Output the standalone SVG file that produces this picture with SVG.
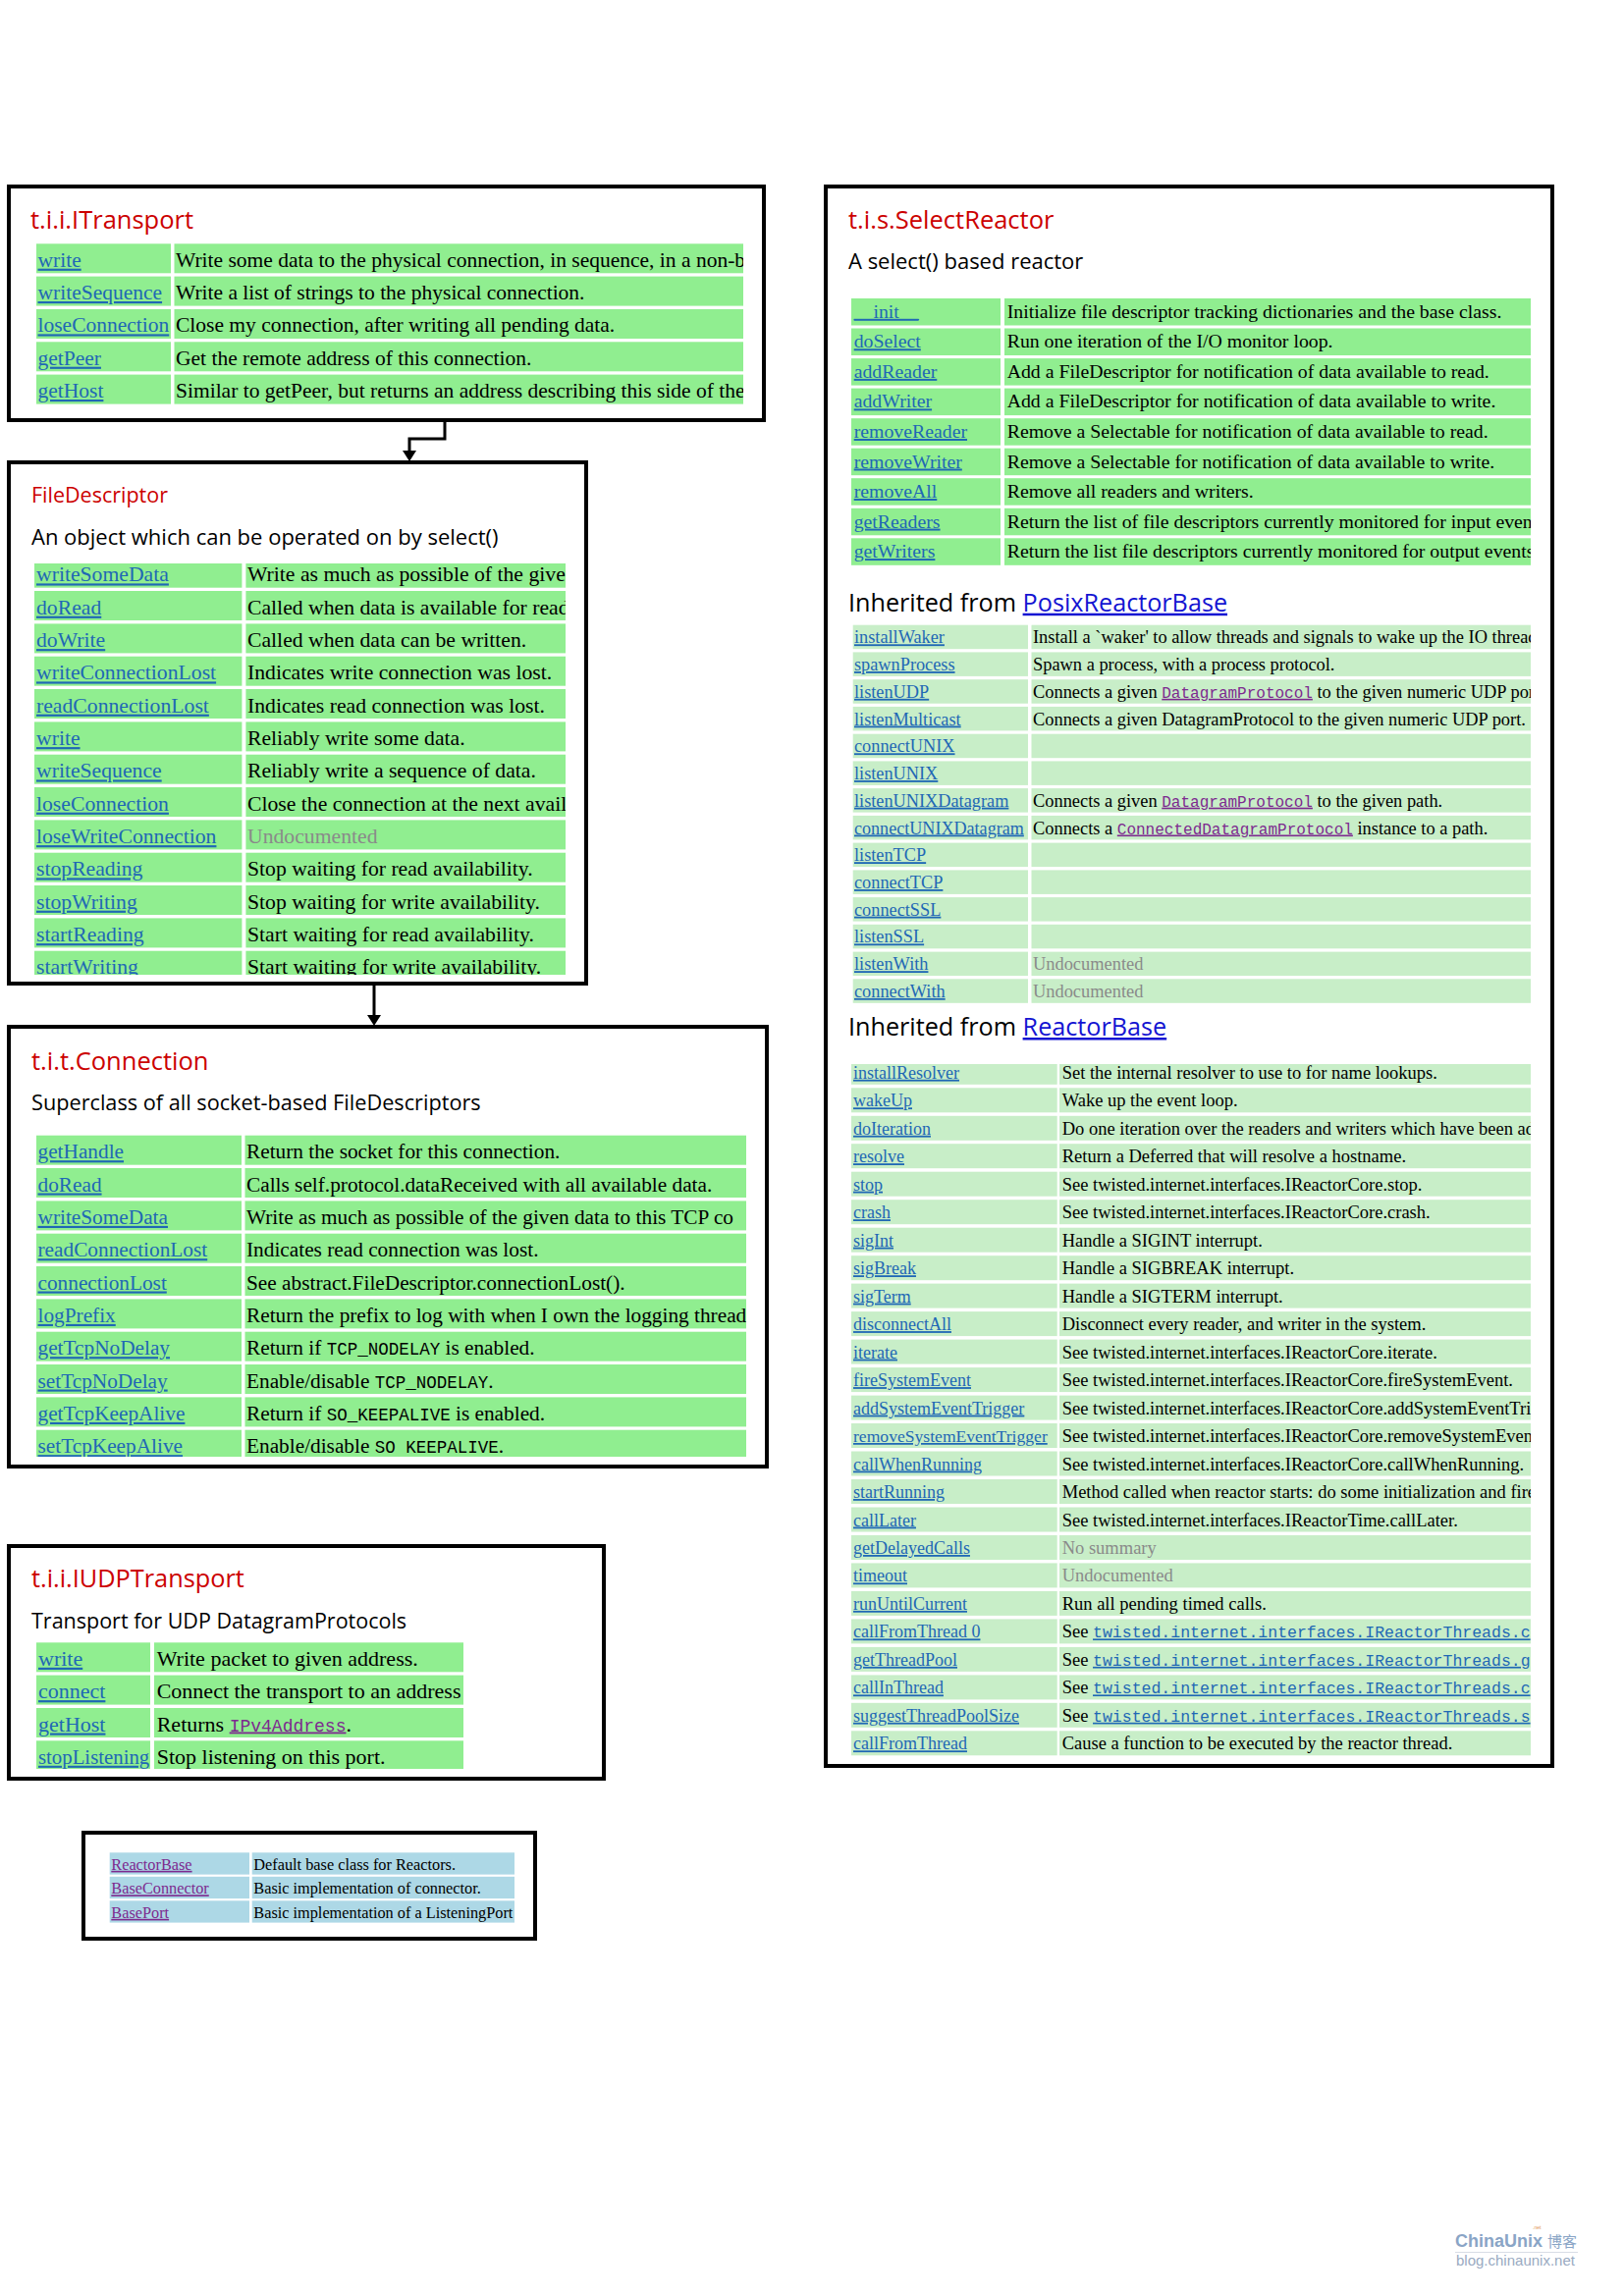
<svg xmlns="http://www.w3.org/2000/svg" width="1654" height="2339" viewBox="0 0 1654 2339">
<style>
.box{fill:#fff;stroke:#000;stroke-width:4}
.ttl{font-family:"Open Sans","Noto Sans",sans-serif;fill:#cc0000}
.sub{font-family:"Open Sans","Noto Sans",sans-serif;fill:#000}
.hl{fill:#1414d2;text-decoration:underline}
.g{fill:#90ee90}
.pg{fill:#c8eec8}
.lb{fill:#add8e6}
.t{font-family:"Liberation Serif","Times New Roman",serif;fill:#000}
.lk{fill:#1f68b5;text-decoration:underline}
.pl{fill:#7d2a8f;text-decoration:underline}
.und{fill:#8a8a8a}
.m{font-family:"Liberation Mono","Courier New",monospace}
.conn{fill:none;stroke:#000;stroke-width:3}
.wm{font-family:"Liberation Sans",Arial,sans-serif}
</style>
<defs>
<marker id="ah" markerWidth="11" markerHeight="14" refX="0" refY="7" orient="auto" markerUnits="userSpaceOnUse"><path d="M0,0 L11,7 L0,14 z" fill="#000"/></marker>
<clipPath id="c1"><rect x="37" y="248" width="720" height="165"/></clipPath>
<clipPath id="c2"><rect x="35" y="574" width="541" height="419"/></clipPath>
<clipPath id="c3"><rect x="37" y="1156" width="723" height="328"/></clipPath>
<clipPath id="c4"><rect x="37" y="1673" width="435" height="129"/></clipPath>
<clipPath id="c5"><rect x="111" y="1887" width="413" height="73"/></clipPath>
<clipPath id="c6"><rect x="867" y="303" width="692" height="273"/></clipPath>
<clipPath id="c7"><rect x="868" y="636" width="691" height="386"/></clipPath>
<clipPath id="c8"><rect x="867" y="1084" width="692" height="705"/></clipPath>
<clipPath id="c8a"><rect x="867" y="1084" width="210" height="705"/></clipPath>
</defs>

<g id="connectors">
<path class="conn" d="M453,430 V447 H417 V459" marker-end="url(#ah)"/>
<path class="conn" d="M381,1004 V1034" marker-end="url(#ah)"/>
</g>

<g id="ITransport">
<rect class="box" x="9" y="190" width="769" height="238"/>
<text class="ttl" x="31" y="233" font-size="25.5">t.i.i.ITransport</text>
<g clip-path="url(#c1)" class="t" font-size="21.5">
<rect class="g" x="37" y="248.3" width="137" height="30"/><rect class="g" x="177.5" y="248.3" width="579.5" height="30"/>
<rect class="g" x="37" y="281.6" width="137" height="30"/><rect class="g" x="177.5" y="281.6" width="579.5" height="30"/>
<rect class="g" x="37" y="315" width="137" height="30"/><rect class="g" x="177.5" y="315" width="579.5" height="30"/>
<rect class="g" x="37" y="348.3" width="137" height="30"/><rect class="g" x="177.5" y="348.3" width="579.5" height="30"/>
<rect class="g" x="37" y="381.6" width="137" height="30"/><rect class="g" x="177.5" y="381.6" width="579.5" height="30"/>
<text class="lk" x="38.5" y="271.7">write</text><text x="179" y="271.7">Write some data to the physical connection, in sequence, in a non-b</text>
<text class="lk" x="38.5" y="305">writeSequence</text><text x="179" y="305">Write a list of strings to the physical connection.</text>
<text class="lk" x="38.5" y="338.4">loseConnection</text><text x="179" y="338.4">Close my connection, after writing all pending data.</text>
<text class="lk" x="38.5" y="371.7">getPeer</text><text x="179" y="371.7">Get the remote address of this connection.</text>
<text class="lk" x="38.5" y="405">getHost</text><text x="179" y="405">Similar to getPeer, but returns an address describing this side of the</text>
</g>
</g>

<g id="FileDescriptor">
<rect class="box" x="9" y="471" width="588" height="531"/>
<text class="ttl" x="32" y="511.7" font-size="21.5">FileDescriptor</text>
<text class="sub" x="32" y="555" font-size="22">An object which can be operated on by select()</text>
<g clip-path="url(#c2)" class="t" font-size="21.7">
<rect class="g" x="35" y="568.7" width="211.4" height="30"/><rect class="g" x="250.4" y="568.7" width="325.6" height="30"/>
<rect class="g" x="35" y="602" width="211.4" height="30"/><rect class="g" x="250.4" y="602" width="325.6" height="30"/>
<rect class="g" x="35" y="635.4" width="211.4" height="30"/><rect class="g" x="250.4" y="635.4" width="325.6" height="30"/>
<rect class="g" x="35" y="668.7" width="211.4" height="30"/><rect class="g" x="250.4" y="668.7" width="325.6" height="30"/>
<rect class="g" x="35" y="702" width="211.4" height="30"/><rect class="g" x="250.4" y="702" width="325.6" height="30"/>
<rect class="g" x="35" y="735.4" width="211.4" height="30"/><rect class="g" x="250.4" y="735.4" width="325.6" height="30"/>
<rect class="g" x="35" y="768.7" width="211.4" height="30"/><rect class="g" x="250.4" y="768.7" width="325.6" height="30"/>
<rect class="g" x="35" y="802" width="211.4" height="30"/><rect class="g" x="250.4" y="802" width="325.6" height="30"/>
<rect class="g" x="35" y="835.4" width="211.4" height="30"/><rect class="g" x="250.4" y="835.4" width="325.6" height="30"/>
<rect class="g" x="35" y="868.7" width="211.4" height="30"/><rect class="g" x="250.4" y="868.7" width="325.6" height="30"/>
<rect class="g" x="35" y="902" width="211.4" height="30"/><rect class="g" x="250.4" y="902" width="325.6" height="30"/>
<rect class="g" x="35" y="935.4" width="211.4" height="30"/><rect class="g" x="250.4" y="935.4" width="325.6" height="30"/>
<rect class="g" x="35" y="968.7" width="211.4" height="30"/><rect class="g" x="250.4" y="968.7" width="325.6" height="30"/>
<text class="lk" x="37" y="592.4">writeSomeData</text><text x="252" y="592.4">Write as much as possible of the given</text>
<text class="lk" x="37" y="625.7">doRead</text><text x="252" y="625.7">Called when data is available for read</text>
<text class="lk" x="37" y="659.1">doWrite</text><text x="252" y="659.1">Called when data can be written.</text>
<text class="lk" x="37" y="692.4">writeConnectionLost</text><text x="252" y="692.4">Indicates write connection was lost.</text>
<text class="lk" x="37" y="725.7">readConnectionLost</text><text x="252" y="725.7">Indicates read connection was lost.</text>
<text class="lk" x="37" y="759.1">write</text><text x="252" y="759.1">Reliably write some data.</text>
<text class="lk" x="37" y="792.4">writeSequence</text><text x="252" y="792.4">Reliably write a sequence of data.</text>
<text class="lk" x="37" y="825.7">loseConnection</text><text x="252" y="825.7">Close the connection at the next avail</text>
<text class="lk" x="37" y="859.1">loseWriteConnection</text><text class="und" x="252" y="859.1">Undocumented</text>
<text class="lk" x="37" y="892.4">stopReading</text><text x="252" y="892.4">Stop waiting for read availability.</text>
<text class="lk" x="37" y="925.7">stopWriting</text><text x="252" y="925.7">Stop waiting for write availability.</text>
<text class="lk" x="37" y="959.1">startReading</text><text x="252" y="959.1">Start waiting for read availability.</text>
<text class="lk" x="37" y="992.4">startWriting</text><text x="252" y="992.4">Start waiting for write availability.</text>
</g>
</g>

<g id="Connection">
<rect class="box" x="9" y="1046" width="772" height="448"/>
<text class="ttl" x="32" y="1090" font-size="25.5">t.i.t.Connection</text>
<text class="sub" x="32" y="1130.7" font-size="21.7">Superclass of all socket-based FileDescriptors</text>
<g clip-path="url(#c3)" class="t" font-size="21.3">
<rect class="g" x="37" y="1156.7" width="209" height="30"/><rect class="g" x="249.5" y="1156.7" width="510.5" height="30"/>
<rect class="g" x="37" y="1190" width="209" height="30"/><rect class="g" x="249.5" y="1190" width="510.5" height="30"/>
<rect class="g" x="37" y="1223.4" width="209" height="30"/><rect class="g" x="249.5" y="1223.4" width="510.5" height="30"/>
<rect class="g" x="37" y="1256.7" width="209" height="30"/><rect class="g" x="249.5" y="1256.7" width="510.5" height="30"/>
<rect class="g" x="37" y="1290" width="209" height="30"/><rect class="g" x="249.5" y="1290" width="510.5" height="30"/>
<rect class="g" x="37" y="1323.4" width="209" height="30"/><rect class="g" x="249.5" y="1323.4" width="510.5" height="30"/>
<rect class="g" x="37" y="1356.7" width="209" height="30"/><rect class="g" x="249.5" y="1356.7" width="510.5" height="30"/>
<rect class="g" x="37" y="1390" width="209" height="30"/><rect class="g" x="249.5" y="1390" width="510.5" height="30"/>
<rect class="g" x="37" y="1423.4" width="209" height="30"/><rect class="g" x="249.5" y="1423.4" width="510.5" height="30"/>
<rect class="g" x="37" y="1456.7" width="209" height="30"/><rect class="g" x="249.5" y="1456.7" width="510.5" height="30"/>
<text class="lk" x="38.5" y="1180.2">getHandle</text><text x="251" y="1180.2">Return the socket for this connection.</text>
<text class="lk" x="38.5" y="1213.5">doRead</text><text x="251" y="1213.5">Calls self.protocol.dataReceived with all available data.</text>
<text class="lk" x="38.5" y="1246.9">writeSomeData</text><text x="251" y="1246.9">Write as much as possible of the given data to this TCP co</text>
<text class="lk" x="38.5" y="1280.2">readConnectionLost</text><text x="251" y="1280.2">Indicates read connection was lost.</text>
<text class="lk" x="38.5" y="1313.5">connectionLost</text><text x="251" y="1313.5">See abstract.FileDescriptor.connectionLost().</text>
<text class="lk" x="38.5" y="1346.9">logPrefix</text><text x="251" y="1346.9">Return the prefix to log with when I own the logging thread</text>
<text class="lk" x="38.5" y="1380.2">getTcpNoDelay</text><text x="251" y="1380.2">Return if <tspan class="m" font-size="17.5">TCP_NODELAY</tspan> is enabled.</text>
<text class="lk" x="38.5" y="1413.5">setTcpNoDelay</text><text x="251" y="1413.5">Enable/disable <tspan class="m" font-size="17.5">TCP_NODELAY</tspan>.</text>
<text class="lk" x="38.5" y="1446.9">getTcpKeepAlive</text><text x="251" y="1446.9">Return if <tspan class="m" font-size="17.5">SO_KEEPALIVE</tspan> is enabled.</text>
<text class="lk" x="38.5" y="1480.2">setTcpKeepAlive</text><text x="251" y="1480.2">Enable/disable <tspan class="m" font-size="17.5">SO KEEPALIVE</tspan>.</text>
</g>
</g>

<g id="IUDPTransport">
<rect class="box" x="9" y="1575" width="606" height="237"/>
<text class="ttl" x="32" y="1616.7" font-size="25.3">t.i.i.IUDPTransport</text>
<text class="sub" x="32" y="1659.3" font-size="21.5">Transport for UDP DatagramProtocols</text>
<g clip-path="url(#c4)" class="t" font-size="22">
<rect class="g" x="37" y="1673.3" width="116" height="30"/><rect class="g" x="157" y="1673.3" width="315" height="30"/>
<rect class="g" x="37" y="1706.6" width="116" height="30"/><rect class="g" x="157" y="1706.6" width="315" height="30"/>
<rect class="g" x="37" y="1740" width="116" height="30"/><rect class="g" x="157" y="1740" width="315" height="30"/>
<rect class="g" x="37" y="1773.3" width="116" height="30"/><rect class="g" x="157" y="1773.3" width="315" height="30"/>
<text class="lk" x="39" y="1696.8">write</text><text x="159.7" y="1696.8">Write packet to given address.</text>
<text class="lk" x="39" y="1730.1">connect</text><text x="159.7" y="1730.1">Connect the transport to an address</text>
<text class="lk" x="39" y="1763.5">getHost</text><text x="159.7" y="1763.5">Returns <tspan class="m pl" font-size="18">IPv4Address</tspan>.</text>
<text class="lk" x="39" y="1796.8" font-size="20.8">stopListening</text><text x="159.7" y="1796.8">Stop listening on this port.</text>
</g>
</g>

<g id="Legend">
<rect class="box" x="85" y="1867" width="460" height="108" stroke-width="3.5"/>
<g clip-path="url(#c5)" class="t" font-size="16.3">
<rect class="lb" x="111.7" y="1887.3" width="142.3" height="22.3"/><rect class="lb" x="256.7" y="1887.3" width="267.3" height="22.3"/>
<rect class="lb" x="111.7" y="1911.8" width="142.3" height="22.3"/><rect class="lb" x="256.7" y="1911.8" width="267.3" height="22.3"/>
<rect class="lb" x="111.7" y="1936.3" width="142.3" height="22.3"/><rect class="lb" x="256.7" y="1936.3" width="267.3" height="22.3"/>
<text class="pl" x="113.3" y="1904.8">ReactorBase</text><text x="258.3" y="1904.8">Default base class for Reactors.</text>
<text class="pl" x="113.3" y="1929.3">BaseConnector</text><text x="258.3" y="1929.3">Basic implementation of connector.</text>
<text class="pl" x="113.3" y="1953.8">BasePort</text><text x="258.3" y="1953.8">Basic implementation of a ListeningPort</text>
</g>
</g>

<g id="SelectReactor">
<rect class="box" x="841" y="190" width="740" height="1609"/>
<text class="ttl" x="864" y="232.7" font-size="25.5">t.i.s.SelectReactor</text>
<text class="sub" x="864" y="274" font-size="22">A select() based reactor</text>
<g clip-path="url(#c6)" class="t" font-size="19.8">
<rect class="g" x="867" y="304" width="152" height="27.5"/><rect class="g" x="1023" y="304" width="536" height="27.5"/>
<rect class="g" x="867" y="334.5" width="152" height="27.5"/><rect class="g" x="1023" y="334.5" width="536" height="27.5"/>
<rect class="g" x="867" y="365.1" width="152" height="27.5"/><rect class="g" x="1023" y="365.1" width="536" height="27.5"/>
<rect class="g" x="867" y="395.6" width="152" height="27.5"/><rect class="g" x="1023" y="395.6" width="536" height="27.5"/>
<rect class="g" x="867" y="426.2" width="152" height="27.5"/><rect class="g" x="1023" y="426.2" width="536" height="27.5"/>
<rect class="g" x="867" y="456.7" width="152" height="27.5"/><rect class="g" x="1023" y="456.7" width="536" height="27.5"/>
<rect class="g" x="867" y="487.2" width="152" height="27.5"/><rect class="g" x="1023" y="487.2" width="536" height="27.5"/>
<rect class="g" x="867" y="517.8" width="152" height="27.5"/><rect class="g" x="1023" y="517.8" width="536" height="27.5"/>
<rect class="g" x="867" y="548.3" width="152" height="27.5"/><rect class="g" x="1023" y="548.3" width="536" height="27.5"/>
<text class="lk" x="869.7" y="323.8">__init__</text><text x="1025.7" y="323.8">Initialize file descriptor tracking dictionaries and the base class.</text>
<text class="lk" x="869.7" y="354.3">doSelect</text><text x="1025.7" y="354.3">Run one iteration of the I/O monitor loop.</text>
<text class="lk" x="869.7" y="384.9">addReader</text><text x="1025.7" y="384.9">Add a FileDescriptor for notification of data available to read.</text>
<text class="lk" x="869.7" y="415.4">addWriter</text><text x="1025.7" y="415.4">Add a FileDescriptor for notification of data available to write.</text>
<text class="lk" x="869.7" y="446">removeReader</text><text x="1025.7" y="446">Remove a Selectable for notification of data available to read.</text>
<text class="lk" x="869.7" y="476.5">removeWriter</text><text x="1025.7" y="476.5">Remove a Selectable for notification of data available to write.</text>
<text class="lk" x="869.7" y="507">removeAll</text><text x="1025.7" y="507">Remove all readers and writers.</text>
<text class="lk" x="869.7" y="537.6">getReaders</text><text x="1025.7" y="537.6">Return the list of file descriptors currently monitored for input event</text>
<text class="lk" x="869.7" y="568.1">getWriters</text><text x="1025.7" y="568.1">Return the list file descriptors currently monitored for output events</text>
</g>
<text class="sub" x="864" y="622.7" font-size="25.2">Inherited from <tspan class="hl">PosixReactorBase</tspan></text>
<g clip-path="url(#c7)" class="t" font-size="18.4">
<rect class="pg" x="868.7" y="636.7" width="178.3" height="24.5"/><rect class="pg" x="1050.5" y="636.7" width="508.5" height="24.5"/>
<rect class="pg" x="868.7" y="664.4" width="178.3" height="24.5"/><rect class="pg" x="1050.5" y="664.4" width="508.5" height="24.5"/>
<rect class="pg" x="868.7" y="692.2" width="178.3" height="24.5"/><rect class="pg" x="1050.5" y="692.2" width="508.5" height="24.5"/>
<rect class="pg" x="868.7" y="719.9" width="178.3" height="24.5"/><rect class="pg" x="1050.5" y="719.9" width="508.5" height="24.5"/>
<rect class="pg" x="868.7" y="747.7" width="178.3" height="24.5"/><rect class="pg" x="1050.5" y="747.7" width="508.5" height="24.5"/>
<rect class="pg" x="868.7" y="775.4" width="178.3" height="24.5"/><rect class="pg" x="1050.5" y="775.4" width="508.5" height="24.5"/>
<rect class="pg" x="868.7" y="803.1" width="178.3" height="24.5"/><rect class="pg" x="1050.5" y="803.1" width="508.5" height="24.5"/>
<rect class="pg" x="868.7" y="830.9" width="178.3" height="24.5"/><rect class="pg" x="1050.5" y="830.9" width="508.5" height="24.5"/>
<rect class="pg" x="868.7" y="858.6" width="178.3" height="24.5"/><rect class="pg" x="1050.5" y="858.6" width="508.5" height="24.5"/>
<rect class="pg" x="868.7" y="886.4" width="178.3" height="24.5"/><rect class="pg" x="1050.5" y="886.4" width="508.5" height="24.5"/>
<rect class="pg" x="868.7" y="914.1" width="178.3" height="24.5"/><rect class="pg" x="1050.5" y="914.1" width="508.5" height="24.5"/>
<rect class="pg" x="868.7" y="941.8" width="178.3" height="24.5"/><rect class="pg" x="1050.5" y="941.8" width="508.5" height="24.5"/>
<rect class="pg" x="868.7" y="969.6" width="178.3" height="24.5"/><rect class="pg" x="1050.5" y="969.6" width="508.5" height="24.5"/>
<rect class="pg" x="868.7" y="997.3" width="178.3" height="24.5"/><rect class="pg" x="1050.5" y="997.3" width="508.5" height="24.5"/>
<text class="lk" x="870" y="655.3" font-size="18.3">installWaker</text><text x="1052" y="655.3">Install a `waker' to allow threads and signals to wake up the IO thread</text>
<text class="lk" x="870" y="683" font-size="18.3">spawnProcess</text><text x="1052" y="683">Spawn a process, with a process protocol.</text>
<text class="lk" x="870" y="710.8" font-size="18.3">listenUDP</text><text x="1052" y="710.8">Connects a given <tspan class="m pl" font-size="16">DatagramProtocol</tspan> to the given numeric UDP port</text>
<text class="lk" x="870" y="738.5" font-size="18.3">listenMulticast</text><text x="1052" y="738.5">Connects a given DatagramProtocol to the given numeric UDP port.</text>
<text class="lk" x="870" y="766.3" font-size="18.3">connectUNIX</text>
<text class="lk" x="870" y="794" font-size="18.3">listenUNIX</text>
<text class="lk" x="870" y="821.7" font-size="18.3">listenUNIXDatagram</text><text x="1052" y="821.7">Connects a given <tspan class="m pl" font-size="16">DatagramProtocol</tspan> to the given path.</text>
<text class="lk" x="870" y="849.5" font-size="18.1">connectUNIXDatagram</text><text x="1052" y="849.5">Connects a <tspan class="m pl" font-size="16">ConnectedDatagramProtocol</tspan> instance to a path.</text>
<text class="lk" x="870" y="877.2" font-size="18.3">listenTCP</text>
<text class="lk" x="870" y="905" font-size="18.3">connectTCP</text>
<text class="lk" x="870" y="932.7" font-size="18.3">connectSSL</text>
<text class="lk" x="870" y="960.4" font-size="18.3">listenSSL</text>
<text class="lk" x="870" y="988.2" font-size="18.3">listenWith</text><text class="und" x="1052" y="988.2">Undocumented</text>
<text class="lk" x="870" y="1015.9" font-size="18.3">connectWith</text><text class="und" x="1052" y="1015.9">Undocumented</text>
</g>
<text class="sub" x="864" y="1055" font-size="25.2">Inherited from <tspan class="hl">ReactorBase</tspan></text>
<g class="t" font-size="18.5">
<g clip-path="url(#c8)">
<rect class="pg" x="867" y="1079.8" width="209.7" height="25"/><rect class="pg" x="1079" y="1079.8" width="480" height="25"/>
<rect class="pg" x="867" y="1108.3" width="209.7" height="25"/><rect class="pg" x="1079" y="1108.3" width="480" height="25"/>
<rect class="pg" x="867" y="1136.8" width="209.7" height="25"/><rect class="pg" x="1079" y="1136.8" width="480" height="25"/>
<rect class="pg" x="867" y="1165.2" width="209.7" height="25"/><rect class="pg" x="1079" y="1165.2" width="480" height="25"/>
<rect class="pg" x="867" y="1193.7" width="209.7" height="25"/><rect class="pg" x="1079" y="1193.7" width="480" height="25"/>
<rect class="pg" x="867" y="1222.2" width="209.7" height="25"/><rect class="pg" x="1079" y="1222.2" width="480" height="25"/>
<rect class="pg" x="867" y="1250.7" width="209.7" height="25"/><rect class="pg" x="1079" y="1250.7" width="480" height="25"/>
<rect class="pg" x="867" y="1279.2" width="209.7" height="25"/><rect class="pg" x="1079" y="1279.2" width="480" height="25"/>
<rect class="pg" x="867" y="1307.6" width="209.7" height="25"/><rect class="pg" x="1079" y="1307.6" width="480" height="25"/>
<rect class="pg" x="867" y="1336.1" width="209.7" height="25"/><rect class="pg" x="1079" y="1336.1" width="480" height="25"/>
<rect class="pg" x="867" y="1364.6" width="209.7" height="25"/><rect class="pg" x="1079" y="1364.6" width="480" height="25"/>
<rect class="pg" x="867" y="1393.1" width="209.7" height="25"/><rect class="pg" x="1079" y="1393.1" width="480" height="25"/>
<rect class="pg" x="867" y="1421.6" width="209.7" height="25"/><rect class="pg" x="1079" y="1421.6" width="480" height="25"/>
<rect class="pg" x="867" y="1450" width="209.7" height="25"/><rect class="pg" x="1079" y="1450" width="480" height="25"/>
<rect class="pg" x="867" y="1478.5" width="209.7" height="25"/><rect class="pg" x="1079" y="1478.5" width="480" height="25"/>
<rect class="pg" x="867" y="1507" width="209.7" height="25"/><rect class="pg" x="1079" y="1507" width="480" height="25"/>
<rect class="pg" x="867" y="1535.5" width="209.7" height="25"/><rect class="pg" x="1079" y="1535.5" width="480" height="25"/>
<rect class="pg" x="867" y="1564" width="209.7" height="25"/><rect class="pg" x="1079" y="1564" width="480" height="25"/>
<rect class="pg" x="867" y="1592.4" width="209.7" height="25"/><rect class="pg" x="1079" y="1592.4" width="480" height="25"/>
<rect class="pg" x="867" y="1620.9" width="209.7" height="25"/><rect class="pg" x="1079" y="1620.9" width="480" height="25"/>
<rect class="pg" x="867" y="1649.4" width="209.7" height="25"/><rect class="pg" x="1079" y="1649.4" width="480" height="25"/>
<rect class="pg" x="867" y="1677.9" width="209.7" height="25"/><rect class="pg" x="1079" y="1677.9" width="480" height="25"/>
<rect class="pg" x="867" y="1706.4" width="209.7" height="25"/><rect class="pg" x="1079" y="1706.4" width="480" height="25"/>
<rect class="pg" x="867" y="1734.8" width="209.7" height="25"/><rect class="pg" x="1079" y="1734.8" width="480" height="25"/>
<rect class="pg" x="867" y="1763.3" width="209.7" height="25"/><rect class="pg" x="1079" y="1763.3" width="480" height="25"/>
<text x="1081.7" y="1098.8">Set the internal resolver to use to for name lookups.</text>
<text x="1081.7" y="1127.3">Wake up the event loop.</text>
<text x="1081.7" y="1155.8">Do one iteration over the readers and writers which have been ad</text>
<text x="1081.7" y="1184.2">Return a Deferred that will resolve a hostname.</text>
<text x="1081.7" y="1212.7">See twisted.internet.interfaces.IReactorCore.stop.</text>
<text x="1081.7" y="1241.2">See twisted.internet.interfaces.IReactorCore.crash.</text>
<text x="1081.7" y="1269.7">Handle a SIGINT interrupt.</text>
<text x="1081.7" y="1298.2">Handle a SIGBREAK interrupt.</text>
<text x="1081.7" y="1326.6">Handle a SIGTERM interrupt.</text>
<text x="1081.7" y="1355.1">Disconnect every reader, and writer in the system.</text>
<text x="1081.7" y="1383.6">See twisted.internet.interfaces.IReactorCore.iterate.</text>
<text x="1081.7" y="1412.1">See twisted.internet.interfaces.IReactorCore.fireSystemEvent.</text>
<text x="1081.7" y="1440.6">See twisted.internet.interfaces.IReactorCore.addSystemEventTri</text>
<text x="1081.7" y="1469">See twisted.internet.interfaces.IReactorCore.removeSystemEvent</text>
<text x="1081.7" y="1497.5">See twisted.internet.interfaces.IReactorCore.callWhenRunning.</text>
<text x="1081.7" y="1526">Method called when reactor starts: do some initialization and fire</text>
<text x="1081.7" y="1554.5">See twisted.internet.interfaces.IReactorTime.callLater.</text>
<text class="und" x="1081.7" y="1583">No summary</text>
<text class="und" x="1081.7" y="1611.4">Undocumented</text>
<text x="1081.7" y="1639.9">Run all pending timed calls.</text>
<text x="1081.7" y="1668.4">See <tspan class="m lk" font-size="16.5">twisted.internet.interfaces.IReactorThreads.c</tspan></text>
<text x="1081.7" y="1696.9">See <tspan class="m lk" font-size="16.5">twisted.internet.interfaces.IReactorThreads.g</tspan></text>
<text x="1081.7" y="1725.4">See <tspan class="m lk" font-size="16.5">twisted.internet.interfaces.IReactorThreads.c</tspan></text>
<text x="1081.7" y="1753.8">See <tspan class="m lk" font-size="16.5">twisted.internet.interfaces.IReactorThreads.s</tspan></text>
<text x="1081.7" y="1782.3">Cause a function to be executed by the reactor thread.</text>
</g>
<g clip-path="url(#c8a)" font-size="18">
<text class="lk" x="869" y="1098.8">installResolver</text>
<text class="lk" x="869" y="1127.3">wakeUp</text>
<text class="lk" x="869" y="1155.8">doIteration</text>
<text class="lk" x="869" y="1184.2">resolve</text>
<text class="lk" x="869" y="1212.7">stop</text>
<text class="lk" x="869" y="1241.2">crash</text>
<text class="lk" x="869" y="1269.7">sigInt</text>
<text class="lk" x="869" y="1298.2">sigBreak</text>
<text class="lk" x="869" y="1326.6">sigTerm</text>
<text class="lk" x="869" y="1355.1">disconnectAll</text>
<text class="lk" x="869" y="1383.6">iterate</text>
<text class="lk" x="869" y="1412.1">fireSystemEvent</text>
<text class="lk" x="869" y="1440.6">addSystemEventTrigger</text>
<text class="lk" x="869" y="1469" font-size="17.6">removeSystemEventTrigger</text>
<text class="lk" x="869" y="1497.5">callWhenRunning</text>
<text class="lk" x="869" y="1526">startRunning</text>
<text class="lk" x="869" y="1554.5">callLater</text>
<text class="lk" x="869" y="1583">getDelayedCalls</text>
<text class="lk" x="869" y="1611.4">timeout</text>
<text class="lk" x="869" y="1639.9">runUntilCurrent</text>
<text class="lk" x="869" y="1668.4">callFromThread 0</text>
<text class="lk" x="869" y="1696.9">getThreadPool</text>
<text class="lk" x="869" y="1725.4">callInThread</text>
<text class="lk" x="869" y="1753.8">suggestThreadPoolSize</text>
<text class="lk" x="869" y="1782.3">callFromThread</text>
</g>
</g>
</g>

<g id="watermark">
<text class="wm" x="1482" y="2289.3" font-size="18" font-weight="bold" fill="#8aa5c6">ChinaUnix</text>
<text class="wm" x="1561" y="2271" font-size="5" fill="#e09050">.net</text>
<text x="1576" y="2289" font-size="15" fill="#8aa5c6" font-family="'Noto Sans CJK SC',sans-serif">博客</text>
<line x1="1482" y1="2294.5" x2="1607" y2="2294.5" stroke="#d8dde6" stroke-width="1"/>
<text class="wm" x="1483" y="2308" font-size="15" fill="#9aaac2">blog.chinaunix.net</text>
</g>
</svg>
